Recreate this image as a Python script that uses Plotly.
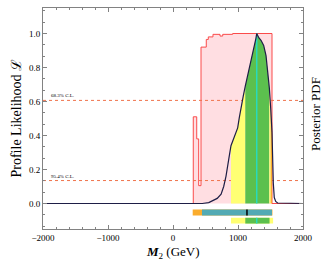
import plotly.graph_objects as go

# ---- data ----
prof_x = [-2000, 312, 365, 395, 431, 512, 543, 615, 723, 765, 918, 1523, 2000]
prof_y = [0, 0.51, 0.38, 0.105, 0.92, 0.965, 0.98, 0.995, 0.985, 0.995, 1.0, 0, 0]

post_x = [-2000, 450, 550, 610, 680, 740, 780, 815, 845, 866, 892, 930, 960, 995, 1020, 1046,
          1080, 1112, 1149, 1174, 1215, 1251, 1275, 1288, 1300, 1320, 1354, 1395, 1431, 1457,
          1482, 1503, 1523, 1543, 1558, 1580, 1610, 2000]
post_y = [0, 0, 0.005, 0.016, 0.03, 0.055, 0.1, 0.16, 0.22, 0.28, 0.34, 0.375, 0.405, 0.445, 0.505, 0.567,
          0.63, 0.69, 0.75, 0.79, 0.86, 0.93, 0.97, 1.0, 0.985, 0.975, 0.96, 0.93, 0.87, 0.78,
          0.68, 0.56, 0.42, 0.12, 0.035, 0.012, 0.003, 0]

fill_segments = [(892, 1112, "yellow"), (1112, 1482, "green"), (1482, 1503, "yellow"), (1503, 1523, "orange")]
post_mode = 1288

cl_levels = [0.6065, 0.135]
cl_labels = ["68.3% C.L.", "95.4% C.L."]

prof_2sig = [303, 1530]
prof_1sig = [446, 1523]
prof_best = 1138
post_2sig = [892, 1540]
post_1sig = [1112, 1485]

x_ticks = [-2000, -1000, 0, 1000, 2000]
y_ticks = [0.0, 0.2, 0.4, 0.6, 0.8, 1.0]

# ---- styles ----
COL = {"yellow": "rgb(255,255,115)", "green": "rgb(92,192,78)", "orange": "rgb(250,172,45)",
       "teal": "rgb(82,170,180)", "cyan": "rgb(40,218,190)", "pink": "rgba(255,222,226,1)",
       "red": "rgb(250,75,75)", "navy": "rgb(30,30,70)", "dot": "rgb(240,115,75)"}
FONT = "Liberation Serif, Times New Roman, serif"

fig = go.Figure()

# profile likelihood
fig.add_trace(go.Scatter(x=prof_x, y=prof_y, mode="lines", line=dict(color=COL["red"], width=1, shape="hv"),
                         fill="tozeroy", fillcolor=COL["pink"], hoverinfo="skip"))

# CL lines
for lvl in cl_levels:
    fig.add_trace(go.Scatter(x=[-2000, 2000], y=[lvl, lvl], mode="lines",
                             line=dict(color=COL["dot"], width=1, dash="dot"), hoverinfo="skip"))

# posterior fills
for lo, hi, c in fill_segments:
    xs = [x for x in post_x if lo <= x <= hi]
    ys = [y for x, y in zip(post_x, post_y) if lo <= x <= hi]
    fig.add_trace(go.Scatter(x=xs, y=ys, mode="lines", line=dict(width=0), fill="tozeroy",
                             fillcolor=COL[c], hoverinfo="skip"))

# mode line
peak = post_y[post_x.index(post_mode)]
fig.add_trace(go.Scatter(x=[post_mode, post_mode], y=[0, peak], mode="lines",
                         line=dict(color=COL["cyan"], width=1.5), hoverinfo="skip"))

# posterior curve
fig.add_trace(go.Scatter(x=post_x, y=post_y, mode="lines", line=dict(color=COL["navy"], width=1.2),
                         hoverinfo="skip"))

# interval bars
bar_w = 0.034
y_prof, y_post = -0.053, -0.101
for (lo, hi), c, yy in [(prof_2sig, "orange", y_prof), (prof_1sig, "teal", y_prof),
                        (post_2sig, "yellow", y_post), (post_1sig, "green", y_post)]:
    fig.add_trace(go.Bar(y=[yy], x=[hi - lo], base=[lo], orientation="h", width=bar_w,
                         marker=dict(color=COL[c], line=dict(width=0)), hoverinfo="skip"))
for xv, yy, c in [(prof_best, y_prof, "black"), (post_mode, y_post, COL["cyan"])]:
    fig.add_trace(go.Scatter(x=[xv, xv], y=[yy - bar_w / 2, yy + bar_w / 2], mode="lines",
                             line=dict(color=c, width=1.5), hoverinfo="skip"))

annotations = []
for lvl, lab in zip(cl_levels, cl_labels):
    annotations.append(dict(x=-1910, y=lvl, xref="x", yref="y", text=lab, showarrow=False,
                            xanchor="left", yanchor="bottom", yshift=0,
                            font=dict(family=FONT, size=5, color="black")))
annotations += [
    dict(x=0, y=0.5, xref="paper", yref="paper", text="Profile Likelihood ℒ", textangle=-90,
         showarrow=False, xanchor="center", yanchor="middle", xshift=-27,
         font=dict(family=FONT, size=14, color="black")),
    dict(x=1, y=0.52, xref="paper", yref="paper", text="Posterior PDF", textangle=-90,
         showarrow=False, xanchor="center", yanchor="middle", xshift=12,
         font=dict(family=FONT, size=13, color="black")),
    dict(x=0.5, y=0, xref="paper", yref="paper", text="<b><i>M</i></b><sub>2</sub> (GeV)",
         showarrow=False, xanchor="center", yanchor="top", yshift=-13,
         font=dict(family=FONT, size=13, color="black")),
]

axcol = "rgb(130,130,130)"
fig.update_layout(
    width=330, height=264, margin=dict(l=43, r=27, t=8, b=35),
    paper_bgcolor="white", plot_bgcolor="white", showlegend=False, barmode="overlay",
    annotations=annotations,
    xaxis=dict(range=[-2000, 2000], tickvals=x_ticks, ticktext=["\u22122000", "\u22121000", "0", "1000", "2000"],
               ticks="inside", ticklen=4, tickcolor=axcol, showline=True, linecolor=axcol, linewidth=1,
               mirror="ticks", showgrid=False, zeroline=False, automargin=False,
               minor=dict(dtick=200, tick0=0, ticks="inside", ticklen=2, tickcolor=axcol),
               tickfont=dict(family=FONT, size=9, color="black")),
    yaxis=dict(range=[-0.15, 1.15], tickvals=y_ticks, ticktext=["0.0", "0.2", "0.4", "0.6", "0.8", "1.0"],
               ticks="inside", ticklen=4, tickcolor=axcol, showline=True, linecolor=axcol, linewidth=1,
               mirror="ticks", showgrid=False, zeroline=False, automargin=False,
               minor=dict(dtick=0.2 / 3, tick0=0, ticks="inside", ticklen=2, tickcolor=axcol),
               tickfont=dict(family=FONT, size=9, color="black")),
)

fig.write_html("out.html", config={"displayModeBar": False},
               post_script="document.body.style.margin='0';document.body.style.padding='0';")
